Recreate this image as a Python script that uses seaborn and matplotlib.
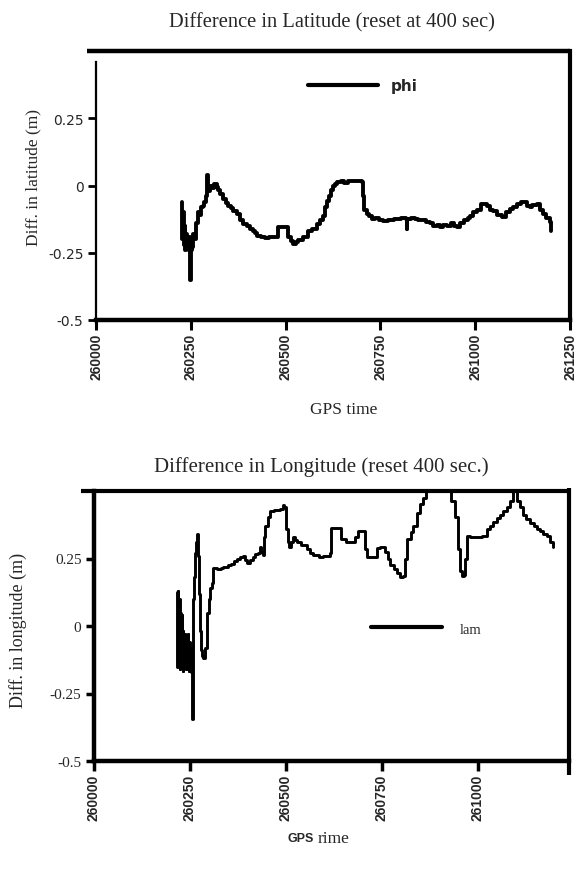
import matplotlib
matplotlib.use("Agg")
import matplotlib.pyplot as plt
import seaborn as sns
import pandas as pd

# ---------------- data ----------------
lat_time = [260226, 260228, 260230, 260232, 260234, 260236, 260238, 260240, 260242, 260244,
            260246, 260248, 260250, 260252, 260254, 260256, 260260, 260263, 260266, 260270,
            260274, 260278, 260283, 260286, 260290, 260294, 260296, 260300, 260305, 260310,
            260314, 260318, 260323, 260328, 260336, 260342, 260349, 260356, 260362, 260371,
            260380, 260388, 260397, 260406, 260415, 260420, 260424, 260435, 260446, 260455,
            260470, 260481, 260495, 260503, 260507, 260514, 260520, 260527, 260534, 260546,
            260560, 260570, 260582, 260590, 260599, 260604, 260608, 260614, 260620, 260625,
            260630, 260636, 260645, 260655, 260665, 260680, 260692, 260701, 260704, 260708,
            260714, 260720, 260727, 260735, 260745, 260757, 260770, 260785, 260793, 260805,
            260817, 260819, 260821, 260830, 260840, 260850, 260860, 260870, 260880, 260890,
            260900, 260907, 260915, 260925, 260935, 260945, 260951, 260960, 260970, 260980,
            260986, 260995, 261005, 261015, 261021, 261030, 261040, 261048, 261058, 261070,
            261080, 261092, 261100, 261110, 261120, 261127, 261136, 261144, 261150, 261162,
            261170, 261180, 261188, 261197, 261201]
lat_diff = [-0.06, -0.20, -0.10, -0.22, -0.15, -0.24, -0.18, -0.22, -0.20, -0.24,
            -0.19, -0.35, -0.24, -0.20, -0.23, -0.18, -0.20, -0.14, -0.14, -0.10,
            -0.11, -0.08, -0.075, -0.06, -0.04, 0.04, -0.02, 0.00, -0.01, 0.005,
            0.006, -0.005, -0.015, -0.03, -0.05, -0.065, -0.075, -0.085, -0.095, -0.106,
            -0.13, -0.143, -0.149, -0.16, -0.168, -0.175, -0.189, -0.19, -0.196, -0.19,
            -0.19, -0.155, -0.155, -0.155, -0.19, -0.205, -0.217, -0.21, -0.203, -0.19,
            -0.17, -0.16, -0.143, -0.13, -0.112, -0.08, -0.057, -0.04, -0.015, 0.0,
            0.005, 0.012, 0.015, 0.01, 0.018, 0.015, 0.018, 0.012, -0.04, -0.09,
            -0.106, -0.115, -0.125, -0.12, -0.13, -0.131, -0.127, -0.125, -0.125, -0.12,
            -0.125, -0.162, -0.125, -0.12, -0.125, -0.13, -0.128, -0.135, -0.14, -0.15,
            -0.148, -0.155, -0.145, -0.152, -0.14, -0.15, -0.155, -0.14, -0.13, -0.12,
            -0.112, -0.10, -0.09, -0.07, -0.069, -0.075, -0.09, -0.094, -0.11, -0.118,
            -0.10, -0.087, -0.08, -0.07, -0.062, -0.062, -0.075, -0.08, -0.072, -0.069,
            -0.09, -0.106, -0.12, -0.137, -0.168]

lon_time = [260216, 260217, 260218, 260219, 260220, 260221, 260222, 260223, 260224, 260225,
            260226, 260227, 260228, 260229, 260230, 260231, 260232, 260233, 260234, 260235,
            260236, 260237, 260238, 260239, 260240, 260241, 260242, 260243, 260244, 260245,
            260246, 260247, 260248, 260249, 260250, 260251, 260252,
            260254, 260257, 260260, 260263, 260266, 260267, 260270, 260273, 260276, 260279,
            260282, 260285, 260289, 260293, 260299, 260303, 260306, 260309, 260311, 260320,
            260330, 260336, 260345, 260350, 260358, 260365, 260372, 260380, 260389, 260394,
            260398, 260405, 260414, 260420, 260426, 260432, 260436, 260441, 260443, 260445,
            260452, 260458, 260470, 260484, 260491, 260496, 260500, 260505, 260509, 260514,
            260519, 260524, 260528, 260540, 260554, 260563, 260571, 260585, 260596, 260605,
            260615, 260616, 260628, 260641, 260643, 260655, 260667, 260680, 260688, 260701,
            260706, 260710, 260720, 260732, 260738, 260745, 260758, 260765, 260771, 260780,
            260788, 260797, 260805, 260810, 260814, 260825, 260831, 260840, 260849, 260857,
            260865, 260875, 260890, 260905, 260920, 260931, 260940, 260949, 260953, 260958,
            260963, 260966, 260971, 260980, 260997, 261010, 261023, 261032, 261040, 261050,
            261057, 261065, 261075, 261083, 261091, 261101, 261110, 261118, 261126, 261135,
            261145, 261153, 261161, 261170, 261179, 261188, 261196]
lon_diff = [0.125, -0.15, 0.12, 0.13, -0.10, 0.08, 0.10, -0.16, 0.06, 0.05,
            -0.14, -0.12, 0.04, 0.02, -0.15, -0.165, -0.02, -0.05, -0.13, -0.13,
            -0.03, -0.08, -0.15, -0.16, -0.04, -0.05, -0.12, -0.14, -0.03, -0.09,
            -0.16, -0.165, -0.06, -0.12, -0.15, -0.08, -0.17,
            -0.345, 0.10, 0.18, 0.27, 0.31, 0.34, 0.26, 0.12, -0.02, -0.09,
            -0.11, -0.12, -0.08, 0.05, 0.10, 0.14, 0.16, 0.20, 0.215, 0.21,
            0.215, 0.22, 0.22, 0.225, 0.23, 0.24, 0.25, 0.255, 0.258, 0.245,
            0.233, 0.245, 0.255, 0.265, 0.27, 0.294, 0.275, 0.263, 0.33, 0.37,
            0.405, 0.425, 0.43, 0.432, 0.45, 0.44, 0.36, 0.31, 0.294, 0.31,
            0.329, 0.32, 0.31, 0.30, 0.286, 0.27, 0.263, 0.255, 0.258, 0.26,
            0.27, 0.364, 0.364, 0.364, 0.322, 0.31, 0.31, 0.33, 0.352, 0.352,
            0.286, 0.257, 0.257, 0.257, 0.29, 0.294, 0.275, 0.25, 0.227, 0.21,
            0.198, 0.18, 0.185, 0.25, 0.322, 0.35, 0.369, 0.417, 0.452, 0.475,
            0.52, 0.58, 0.62, 0.60, 0.54, 0.464, 0.405, 0.286, 0.204, 0.186,
            0.19, 0.25, 0.334, 0.33, 0.33, 0.335, 0.358, 0.37, 0.387, 0.40,
            0.411, 0.425, 0.441, 0.464, 0.51, 0.464, 0.44, 0.411, 0.395, 0.381,
            0.37, 0.36, 0.352, 0.34, 0.334, 0.31, 0.293]

x_ticks_top = [260000, 260250, 260500, 260750, 261000, 261250]
x_ticks_bottom = [260000, 260250, 260500, 260750, 261000]
y_ticks = [-0.5, -0.25, 0, 0.25]
y_tick_labels = ["-0.5", "-0.25", "0", "0.25"]

lat_df = pd.DataFrame({"GPS time": lat_time, "diff": lat_diff})
lon_df = pd.DataFrame({"GPS time": lon_time, "diff": lon_diff})

# ---------------- style ----------------
sns.set_theme(style="white")
plt.rcParams["font.family"] = ["Liberation Serif", "DejaVu Serif"]

W, H = 578, 870
fig = plt.figure(figsize=(W / 100, H / 100), dpi=100)
fig.patch.set_facecolor("white")


def frac_box(left, top, right, bottom):
    return [left / W, 1 - bottom / H, (right - left) / W, (bottom - top) / H]


# ================= top panel =================
ax1 = fig.add_axes(frac_box(96, 52, 570, 321))
sns.lineplot(data=lat_df, x="GPS time", y="diff", ax=ax1, color="black",
             linewidth=2.8, drawstyle="steps-post", estimator=None, label="phi")
ax1.set_xlim(260000, 261250)
ax1.set_ylim(-0.5, 0.5)
ax1.set_xticks(x_ticks_top)
ax1.set_xticklabels([str(t) for t in x_ticks_top], rotation=90,
                    fontfamily="Liberation Sans", fontweight="bold", fontsize=10)
ax1.set_yticks(y_ticks)
ax1.set_yticklabels(y_tick_labels, fontfamily="DejaVu Sans", fontsize=10)
ax1.tick_params(axis="x", direction="out", length=7, width=2.2, color="black",
                bottom=True, pad=2)
ax1.tick_params(axis="y", direction="out", length=6, width=2, color="black",
                left=True, pad=3)
ax1.set_xlabel("")
ax1.set_ylabel("")
for side, lw in [("left", 1.6), ("bottom", 3.2), ("right", 3.0)]:
    ax1.spines[side].set_color("black")
    ax1.spines[side].set_linewidth(lw)
ax1.spines["left"].set_bounds(-0.5, 0.46)
ax1.spines["top"].set_visible(False)
ax1.plot([-0.019, 1.0], [1.0, 1.0], transform=ax1.transAxes, color="black",
         lw=3.2, clip_on=False, solid_capstyle="butt")
leg1 = ax1.legend(loc="center left", bbox_to_anchor=(0.447, 0.870), frameon=False,
                  handlelength=4.6, handletextpad=0.85, borderpad=0, borderaxespad=0,
                  prop={"family": "DejaVu Sans", "weight": "bold", "size": 11})
for line in leg1.get_lines():
    line.set_linewidth(3)

fig.text(332 / W, 1 - 23 / H, "Difference in Latitude (reset at 400 sec)",
         ha="center", va="center", fontsize=14.8)
fig.text(33 / W, 1 - 178 / H, "Diff. in latitude (m)", rotation=90,
         ha="center", va="center", fontsize=12.5)
fig.text(344 / W, 1 - 410 / H, "GPS time", ha="center", va="center", fontsize=12.5)

# ================= bottom panel =================
ax2 = fig.add_axes(frac_box(94, 492, 569, 762))
sns.lineplot(data=lon_df, x="GPS time", y="diff", ax=ax2, color="black",
             linewidth=2.1, drawstyle="steps-post", estimator=None, label="lam")
ax2.set_xlim(260000, 261237)
ax2.set_ylim(-0.5, 0.5)
ax2.set_xticks(x_ticks_bottom)
ax2.set_xticklabels([str(t) for t in x_ticks_bottom], rotation=90,
                    fontfamily="Liberation Sans", fontweight="bold", fontsize=10)
ax2.set_yticks(y_ticks)
ax2.set_yticklabels(y_tick_labels, fontsize=11)
ax2.tick_params(axis="x", direction="out", length=7, width=2.5, color="black",
                bottom=True, pad=2)
ax2.tick_params(axis="y", direction="out", length=6, width=2.5, color="black",
                left=True, pad=3)
ax2.set_xlabel("")
ax2.set_ylabel("")
for side, lw in [("left", 3.2), ("bottom", 3.2)]:
    ax2.spines[side].set_color("black")
    ax2.spines[side].set_linewidth(lw)
ax2.spines["top"].set_visible(False)
ax2.spines["right"].set_visible(False)
ax2.plot([-0.027, 1.0], [1.0, 1.0], transform=ax2.transAxes, color="black",
         lw=3.0, clip_on=False, solid_capstyle="butt")
ax2.plot([1.0, 1.0], [1.01, -0.05], transform=ax2.transAxes, color="black",
         lw=3.0, clip_on=False, solid_capstyle="butt")
leg2 = ax2.legend(loc="center left", bbox_to_anchor=(0.5825, 0.489), frameon=False,
                  handlelength=4.9, handletextpad=1.2, borderpad=0, borderaxespad=0,
                  prop={"family": "Liberation Serif", "size": 10.5})
for line in leg2.get_lines():
    line.set_linewidth(3)

fig.text(321 / W, 1 - 467 / H, "Difference in Longitude (reset 400 sec.)",
         ha="center", va="center", fontsize=15)
fig.text(18 / W, 1 - 630 / H, "Diff. in longitude (m)", rotation=90,
         ha="center", va="center", fontsize=13)
fig.text(314 / W, 1 - 839 / H, "GPS", ha="right", va="center",
         fontfamily="Liberation Sans", fontweight="bold", fontsize=9)
fig.text(318 / W, 1 - 839 / H, "rime", ha="left", va="center", fontsize=12.5)

fig.savefig("out.png", dpi=100, facecolor="white")
